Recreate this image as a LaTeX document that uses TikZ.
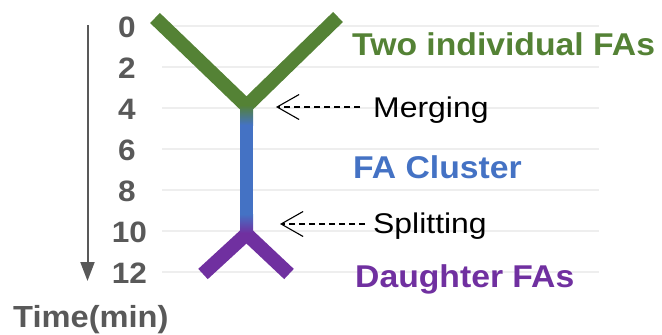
\documentclass[tikz,border=0pt]{standalone}
\usepackage{fontspec}
\setmainfont{Liberation Sans}
\newfontfamily\bfam[FakeStretch=1.07]{Liberation Sans}
\newfontfamily\rfam[FakeStretch=1.12]{Liberation Sans}
\usetikzlibrary{arrows.meta}
\definecolor{fagreen}{HTML}{548235}
\definecolor{fablue}{HTML}{4472C4}
\definecolor{fapurple}{HTML}{7030A0}
\definecolor{axgray}{HTML}{595959}
\definecolor{gridgray}{HTML}{EEEEEE}
\begin{document}
\begin{tikzpicture}[x=1pt,y=-1pt,
  tick/.style={font=\bfam\bfseries\fontsize{29.5}{30}\selectfont, text=axgray, inner sep=0pt, anchor=base},
  axlabel/.style={font=\bfam\bfseries\fontsize{30.5}{31}\selectfont, text=axgray, inner sep=0pt, anchor=base west},
  lab/.style={font=\bfam\bfseries\fontsize{31.5}{32}\selectfont, inner sep=0pt, anchor=base west},
  evt/.style={font=\rfam\fontsize{28.5}{29}\selectfont, text=black, inner sep=0pt, anchor=base west},
  gridline/.style={draw=gridgray, line width=1.5pt},
  dasharrow/.style={draw=black, line width=1.1pt, dash pattern=on 6pt off 4pt, -{Straight Barb[length=22pt,width=25pt]}},
  arm/.style={line width=14pt, line join=miter, line cap=butt},
  axisline/.style={draw=axgray, line width=2pt, -{Triangle[length=19pt,width=14pt]}}
]
\useasboundingbox (0,0) rectangle (662,335);
% grid lines
\foreach \k in {0,...,6}{
  \draw[gridline] (162,{26+41*\k}) -- (599,{26+41*\k});
}
% axis
\coordinate (axtop) at (87.5,25);
\coordinate (axbot) at (87.5,281);
\draw[axisline] (axtop) -- (axbot);
% tick labels
\node[tick] (t0) at (127,37) {0};
\node[tick] (t2) at (127,78) {2};
\node[tick] (t4) at (127,119) {4};
\node[tick] (t6) at (127,160) {6};
\node[tick] (t8) at (127,201) {8};
\node[tick] (t10) at (129.5,242) {10};
\node[tick] (t12) at (129.5,283) {12};
\node[axlabel] (time) at (13,327) {Time(min)};
% Y shape
\draw[fagreen, arm] (155,18) -- (246.5,106) -- (338,17);
\draw[fapurple, arm] (203,274) -- (246.5,234) -- (289,274);
\fill[fablue] (240,124) rectangle (253,215);
\shade[top color=fagreen, bottom color=fablue] (240,105) rectangle (253,125);
\shade[top color=fablue, bottom color=fapurple] (240,214) rectangle (253,233);
% labels
\node[lab, text=fagreen] (two) at (352,55) {Two individual FAs};
\node[lab, text=fablue] (cluster) at (353,178) {FA Cluster};
\node[lab, text=fapurple] (daughter) at (355,287) {Daughter FAs};
\node[evt] (merging) at (373,117) {Merging};
\node[evt] (splitting) at (373,233) {Splitting};
% event arrows
\coordinate (mtip) at (276,107);
\coordinate (mstart) at (360,107);
\draw[dasharrow] (mstart) -- (mtip);
\coordinate (stip) at (280,224);
\coordinate (sstart) at (365,224);
\draw[dasharrow] (sstart) -- (stip);
\end{tikzpicture}
\end{document}
